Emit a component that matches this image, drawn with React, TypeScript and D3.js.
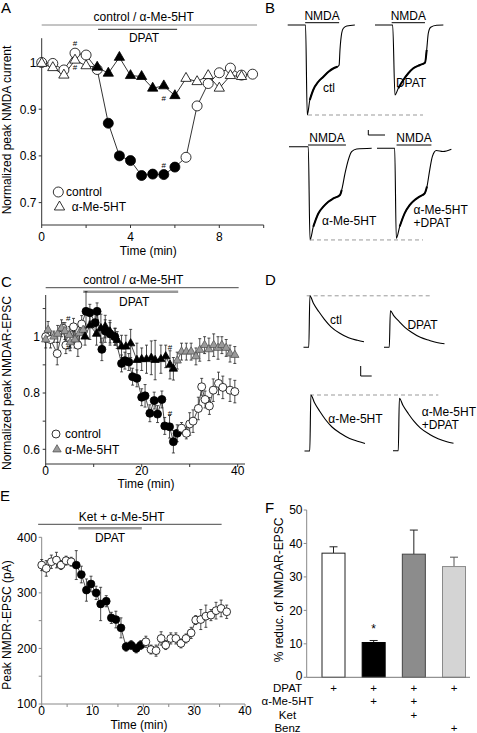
import React from 'react';
import * as d3 from 'd3';

const FONT = '"Liberation Sans", Arial, Helvetica, sans-serif';
const FS = 12;

// ===== Panel A: normalized peak NMDA current =====
const timeActl = [0, 0.5, 1, 1.5, 2, 2.5, 3, 3.5, 4, 4.5, 5, 5.5, 6, 6.5, 7, 7.5, 8, 8.5, 9, 9.5];
const valActl = [1.0, 0.998, 0.984, 1.02, 1.016, 0.985, 0.87, 0.8, 0.79, 0.758, 0.761, 0.76, 0.776, 0.797, 0.907, 0.955, 0.978, 0.988, 0.973, 0.975];
const dpatActl = [0, 0, 0, 0, 0, 0, 1, 1, 1, 1, 1, 1, 1, 0, 0, 0, 0, 0, 0, 0];
const timeAame = [0, 0.5, 1, 1.5, 2, 2.5, 3, 3.5, 4, 4.5, 5, 5.5, 6, 6.5, 7, 7.5, 8, 8.5, 9];
const valAame = [0.998, 0.989, 0.973, 1.005, 0.993, 0.99, 0.977, 1.011, 0.972, 0.97, 0.945, 0.95, 0.929, 0.966, 0.959, 0.972, 0.945, 0.972, 0.97];
const dpatAame = [0, 0, 0, 0, 0, 1, 1, 1, 1, 1, 1, 1, 1, 0, 0, 0, 0, 0, 0];
const appA = [0, 9.7];
const dpatA = [2.54, 6.1];
const sharpA = [[1.5, 1.042], [1.5, 0.99], [5.5, 0.925], [5.5, 0.78]];
const yTicksA = [0.7, 0.8, 0.9, 1];
const yLabA = ['0.7', '0.8', '0.9', '1'];
const xTicksA = [0, 2, 4, 6, 8, 10];
const xLabA = ['0', '', '4', '', '8', ''];

// ===== Panel B: NMDA current traces (s, nA) =====
const tB1 = [0, 2.1, 2.3, 2.6, 3.0, 3.6, 4.2, 4.8, 5.4, 5.85, 6.05, 6.15, 6.35, 6.55, 6.95, 7.9];
const iB1 = [0, 0, -3.6, -3.0, -2.6, -2.27, -2.07, -1.87, -1.73, -1.67, -1.6, -1.0, -0.33, -0.13, -0.04, 0];
const tB2 = [0, 2.08, 2.35, 2.74, 3.33, 3.92, 4.51, 5.29, 5.88, 6.08, 6.27, 6.55, 7.25, 8.04];
const iB2 = [0, 0, -2.8, -2.53, -2.2, -1.93, -1.73, -1.6, -1.51, -1.0, -0.33, -0.09, -0.01, 0];
const tB3 = [0, 2.27, 2.47, 2.86, 3.45, 4.04, 4.63, 5.22, 6.0, 6.2, 6.59, 6.98, 7.37, 7.96, 9.73];
const iB3 = [0, 0, -3.73, -3.2, -2.67, -2.4, -2.2, -2.07, -1.93, -1.73, -1.07, -0.53, -0.2, -0.09, -0.06];
const tB4 = [0, 2.08, 2.27, 2.67, 3.25, 3.84, 4.43, 5.02, 5.61, 5.88, 6.2, 6.51, 6.98, 7.76, 8.75];
const iB4 = [0, 0, -3.6, -3.13, -2.6, -2.27, -2.07, -1.93, -1.8, -1.53, -0.87, -0.33, -0.09, -0.13, -0.04];
const nmdaB = [[2.05, 6.05], [1.96, 5.88], [2.24, 6.7], [2.3, 6.4]];

// ===== Panel C: normalized NMDAR-EPSC =====
const tCc = [0, 1, 2.4, 3.6, 4.2, 5.2, 5.8, 6.7, 7.5, 8.4, 9.2, 10.3, 10.7, 11.7, 12.4, 13.4, 14.4, 15.8, 16.5, 17.3, 18.1, 19.0, 20.0, 20.7, 21.7, 22.6, 23.3, 24.2, 24.8, 25.8, 26.6, 27.4, 28.3, 29.3, 30.0, 30.7, 31.8, 32.5, 33.2, 34.1, 34.9, 36.0, 36.9, 38.4, 39.4];
const vCc = [1.0, 0.99, 0.94, 1.03, 0.97, 0.99, 1.035, 0.97, 1.045, 1.09, 1.085, 1.05, 1.09, 0.955, 1.02, 1.01, 1.0, 0.905, 0.915, 0.91, 0.858, 0.852, 0.785, 0.79, 0.728, 0.773, 0.725, 0.777, 0.683, 0.68, 0.627, 0.657, 0.675, 0.657, 0.69, 0.7, 0.745, 0.822, 0.777, 0.754, 0.81, 0.834, 0.82, 0.81, 0.805];
const eCc = [0.02, 0.03, 0.04, 0.02, 0.03, 0.03, 0.03, 0.04, 0.03, 0.07, 0.03, 0.04, 0.03, 0.04, 0.04, 0.04, 0.03, 0.03, 0.03, 0.03, 0.03, 0.03, 0.03, 0.04, 0.03, 0.03, 0.03, 0.03, 0.03, 0.04, 0.04, 0.03, 0.02, 0.02, 0.04, 0.04, 0.04, 0.03, 0.03, 0.03, 0.04, 0.04, 0.04, 0.04, 0.04];
const fCc = [0, 0, 0, 0, 0, 0, 0, 0, 0, 1, 1, 1, 1, 1, 1, 1, 1, 1, 1, 1, 1, 1, 1, 1, 1, 1, 1, 1, 1, 1, 1, 1, 0, 0, 0, 0, 0, 0, 0, 0, 0, 0, 0, 0, 0];
const tCa = [0, 0.5, 1.7, 2.5, 3.3, 4.0, 4.9, 5.1, 6.1, 7.0, 7.8, 8.2, 9.2, 10.6, 11.5, 12.4, 13.4, 14.5, 14.9, 15.8, 16.7, 17.7, 19.0, 20.0, 21.0, 22.0, 22.8, 24.0, 25.0, 25.9, 26.6, 27.4, 28.3, 29.3, 30.3, 31.3, 32.1, 33.1, 34.0, 35.0, 35.9, 36.7, 37.6, 38.4, 39.4];
const vCa = [0.99, 1.024, 1.0, 1.01, 1.03, 1.02, 1.006, 0.98, 0.99, 1.012, 1.024, 1.0, 1.04, 1.01, 1.03, 1.036, 1.018, 1.0, 0.988, 0.965, 0.965, 0.976, 0.917, 0.92, 0.92, 0.925, 0.917, 0.92, 0.93, 0.9, 0.886, 0.915, 0.947, 0.947, 0.947, 0.93, 0.953, 0.97, 0.955, 0.97, 0.96, 0.97, 0.96, 0.94, 0.935];
const eCa = [0.03, 0.03, 0.02, 0.03, 0.03, 0.03, 0.03, 0.03, 0.03, 0.03, 0.03, 0.03, 0.05, 0.04, 0.05, 0.04, 0.04, 0.03, 0.03, 0.04, 0.04, 0.05, 0.06, 0.04, 0.05, 0.06, 0.07, 0.05, 0.04, 0.05, 0.04, 0.03, 0.03, 0.03, 0.03, 0.03, 0.04, 0.03, 0.04, 0.04, 0.04, 0.03, 0.03, 0.03, 0.03];
const fCa = [0, 0, 0, 0, 0, 0, 0, 0, 0, 0, 0, 1, 1, 1, 1, 1, 1, 1, 1, 1, 1, 1, 1, 1, 1, 1, 1, 1, 1, 1, 1, 0, 0, 0, 0, 0, 0, 0, 0, 0, 0, 0, 0, 0, 0];
const appC = [0, 40.2];
const dpatC = [7.8, 27.6];
const sharpC = [[4.7, 1.066], [4.7, 0.963], [25.9, 0.962], [25.9, 0.728]];
const yTicksC = [0.6, 0.7, 0.8, 0.9, 1.0, 1.1];
const yLabC = ['0.6', '', '0.8', '', '1', ''];
const xTicksC = [0, 10, 20, 30, 40];
const xLabC = ['0', '', '20', '', '40'];

// ===== Panel D: EPSC traces (ms, pA) =====
const tD = [-25, -1, 4, 20, 45, 70, 100, 140, 180, 220, 250];
const iDctl = [0, 0, 103, 88, 71, 56, 41, 28, 19, 14, 11];
const iDdpat = [0, 0, 73, 63, 51, 40, 30, 20, 14, 9, 7];
const iDame = [0, 0, 112, 97, 79, 63, 48, 35, 25, 19, 15];
const iDameDpat = [0, 0, 105, 91, 74, 59, 45, 33, 24, 18, 15];

// ===== Panel E: peak NMDR-EPSC (pA) =====
const tE = [0, 0.9, 1.9, 2.9, 3.8, 4.8, 5.8, 6.8, 7.8, 8.8, 9.7, 10.7, 11.6, 12.7, 13.7, 14.6, 15.6, 16.6, 17.6, 18.6, 19.5, 20.5, 21.5, 22.5, 23.5, 24.4, 25.4, 26.4, 27.4, 28.4, 29.4, 30.3, 31.3, 32.3, 33.3, 34.3, 35.3, 36.4];
const vE = [350, 344, 356, 359, 350, 358, 356, 350, 333, 305, 316, 300, 280, 285, 255, 252, 237, 203, 206, 200, 206, 212, 198, 196, 218, 206, 218, 218, 209, 218, 228, 251, 252, 258, 260, 268, 272, 266];
const eE = [10, 14, 12, 14, 8, 8, 8, 26, 15, 20, 14, 12, 30, 10, 10, 15, 18, 8, 8, 8, 8, 10, 8, 10, 12, 8, 10, 10, 8, 8, 10, 8, 18, 20, 10, 15, 15, 12];
const fE = [0, 0, 0, 0, 0, 0, 0, 1, 1, 1, 1, 1, 1, 1, 1, 1, 1, 1, 1, 1, 1, 0, 0, 0, 0, 0, 0, 0, 0, 0, 0, 0, 0, 0, 0, 0, 0, 0];
const appE = [-0.7, 35.4];
const dpatE = [7.2, 19.7];
const yTicksE = [100, 150, 200, 250, 300, 350, 400];
const yLabE = ['100', '', '200', '', '300', '', '400'];
const xTicksE = [0, 5, 10, 15, 20, 25, 30, 35, 40];
const xLabE = ['0', '', '10', '', '20', '', '30', '', '40'];

// ===== Panel F: % reduction =====
const catsF = ['c1', 'c2', 'c3', 'c4'];
const valF = [37.1, 10.4, 36.8, 33.1];
const errF = [1.9, 0.6, 7.2, 2.8];
const fillF = ['#ffffff', '#000000', '#8c8c8c', '#d4d4d4'];
const strokeF = ['#222', '#000', '#444', '#8a8a8a'];
const rowLabF = ['DPAT', 'α-Me-5HT', 'Ket', 'Benz'];
const rowMarkF = [[1, 1, 1, 1], [0, 1, 1, 0], [0, 0, 1, 0], [0, 0, 0, 1]];
const yTicksF = [0, 10, 20, 30, 40, 50];

type Pt = { t: number; v: number; e: number; f: number };
const zip = (t: number[], v: number[], f: number[], e?: number[]): Pt[] =>
  t.map((tt, i) => ({ t: tt, v: v[i], f: f[i], e: e ? e[i] : 0 }));

function triPath(size: number) {
  return d3.symbol().type(d3.symbolTriangle).size(size)() as string;
}

function YAxis(props: any) {
  const { x, y, top, bottom, ticks, labels, color, lx, dy = 4.3 } = props;
  return (
    <g>
      <line x1={x} x2={x} y1={top} y2={bottom} stroke={color} strokeWidth={1} />
      {ticks.map((t: number, i: number) => (
        <g key={i}>
          <line x1={x - 3} x2={x} y1={y(t)} y2={y(t)} stroke={color} strokeWidth={1} />
          {labels[i] ? (
            <text x={lx} y={y(t) + (i === 0 ? dy : 4.3)} textAnchor="end" fontSize={FS}>{labels[i]}</text>
          ) : null}
        </g>
      ))}
    </g>
  );
}

function XAxis(props: any) {
  const { x, y0, left, right, ticks, labels, color, ly } = props;
  return (
    <g>
      <line x1={left} x2={right} y1={y0} y2={y0} stroke={color} strokeWidth={1} />
      {ticks.map((t: number, i: number) => (
        <g key={i}>
          <line x1={x(t)} x2={x(t)} y1={y0} y2={y0 + 3} stroke={color} strokeWidth={1} />
          {labels[i] ? (
            <text x={x(t)} y={ly} textAnchor="middle" fontSize={FS}>{labels[i]}</text>
          ) : null}
        </g>
      ))}
    </g>
  );
}

function PanelA() {
  const x = d3.scaleLinear().domain([0, 10]).range([41.7, 263.7]);
  const y = d3.scaleLinear().domain([0.7, 1.0]).range([202.6, 62.5]);
  const ctl = zip(timeActl, valActl, dpatActl);
  const ame = zip(timeAame, valAame, dpatAame);
  const line = d3.line<Pt>().x((p) => x(p.t)).y((p) => y(p.v));
  const tri = triPath(46);
  return (
    <g>
      <text x={1} y={12.5} fontSize={15}>A</text>
      <text x={143.7} y={20.5} textAnchor="middle" fontSize={FS}>control / α-Me-5HT</text>
      <line x1={x(appA[0])} x2={x(appA[1])} y1={25} y2={25} stroke="#8a8a8a" strokeWidth={1} />
      <line x1={x(dpatA[0])} x2={x(dpatA[1])} y1={29.3} y2={29.3} stroke="#222" strokeWidth={1} />
      <text x={144} y={41.5} textAnchor="middle" fontSize={FS}>DPAT</text>
      <YAxis x={41.7} y={y} top={y(1.052)} bottom={225} ticks={yTicksA} labels={yLabA} color="#333" lx={36.5} />
      <XAxis x={x} y0={225} left={41.7} right={x(10)} ticks={xTicksA} labels={xLabA} color="#333" ly={241} />
      <path d={line(ctl) as string} fill="none" stroke="#000" strokeWidth={0.8} />
      <path d={line(ame) as string} fill="none" stroke="#000" strokeWidth={0.8} />
      {ctl.map((p, i) => (
        <circle key={'c' + i} cx={x(p.t)} cy={y(p.v)} r={5} fill={p.f ? '#000' : '#fff'} stroke="#000" strokeWidth={0.8} />
      ))}
      {ame.map((p, i) => (
        <path key={'t' + i} d={tri} transform={`translate(${x(p.t)},${y(p.v)})`} fill={p.f ? '#000' : '#fff'} stroke="#000" strokeWidth={0.8} />
      ))}
      {sharpA.map((s, i) => (
        <text key={'s' + i} x={x(s[0])} y={y(s[1]) + 3} textAnchor="middle" fontSize={8}>#</text>
      ))}
      <circle cx={58.3} cy={192} r={5} fill="#fff" stroke="#000" strokeWidth={0.8} />
      <text x={66} y={196.3} fontSize={FS}>control</text>
      <path d={tri} transform="translate(59.5,207)" fill="#fff" stroke="#000" strokeWidth={0.8} />
      <text x={71.7} y={211.3} fontSize={FS}>α-Me-5HT</text>
      <text transform="translate(10.5,130) rotate(-90)" textAnchor="middle" fontSize={FS}>Normalized peak NMDA current</text>
      <text x={148.3} y={254.5} textAnchor="middle" fontSize={FS}>Time (min)</text>
    </g>
  );
}

function NmdaTrace(props: any) {
  const { t, v, x0, y0 } = props;
  const xs = d3.scaleLinear().domain([0, 1]).range([x0, x0 + 8.5]);
  const ys = d3.scaleLinear().domain([0, 1]).range([y0, y0 - 25]);
  const pts = t.map((tt: number, i: number) => [xs(tt), ys(v[i])] as [number, number]);
  const line = d3.line().curve(d3.curveMonotoneX);
  const mid = pts.slice(3, 10);
  return (
    <g>
      <path d={line(pts) as string} fill="none" stroke="#000" strokeWidth={1.1} />
      <path d={line(mid) as string} fill="none" stroke="#000" strokeWidth={2} />
    </g>
  );
}

function PanelB() {
  const rows = [
    { t: tB1, v: iB1, x0: 287.7, y0: 25, barY: 22.7, textY: 20, on: nmdaB[0] },
    { t: tB2, v: iB2, x0: 375, y0: 25, barY: 22.7, textY: 20, on: nmdaB[1] },
    { t: tB3, v: iB3, x0: 289, y0: 146.7, barY: 145, textY: 141.7, on: nmdaB[2] },
    { t: tB4, v: iB4, x0: 377, y0: 148.3, barY: 145, textY: 141.7, on: nmdaB[3] },
  ];
  const peakTop = 25 - 25 * d3.min(iB1)!;
  const peakBot = 146.7 - 25 * d3.min(iB3)!;
  return (
    <g>
      <text x={265} y={12.5} fontSize={15}>B</text>
      {rows.map((r, i) => {
        const xs = d3.scaleLinear().domain([0, 1]).range([r.x0, r.x0 + 8.5]);
        return (
          <g key={i}>
            <line x1={xs(r.on[0])} x2={xs(r.on[1])} y1={r.barY} y2={r.barY} stroke="#000" strokeWidth={1} />
            <text x={(xs(r.on[0]) + xs(r.on[1])) / 2} y={r.textY} textAnchor="middle" fontSize={12}>NMDA</text>
            <NmdaTrace t={r.t} v={r.v} x0={r.x0} y0={r.y0} />
          </g>
        );
      })}
      <line x1={308} x2={423} y1={peakTop} y2={peakTop} stroke="#999" strokeDasharray="4 3" strokeWidth={1} />
      <line x1={310} x2={423} y1={peakBot} y2={peakBot} stroke="#999" strokeDasharray="4 3" strokeWidth={1} />
      <path d="M368.3,130 L368.3,135 L385,135" fill="none" stroke="#000" strokeWidth={1} />
      <text x={329} y={91.5} textAnchor="middle" fontSize={FS}>ctl</text>
      <text x={411} y={86.5} textAnchor="middle" fontSize={FS}>DPAT</text>
      <text x={322} y={224.5} fontSize={FS}>α-Me-5HT</text>
      <text x={413.5} y={214} fontSize={FS}>α-Me-5HT</text>
      <text x={413.5} y={226.5} fontSize={FS}>+DPAT</text>
    </g>
  );
}

function PanelC() {
  const x = d3.scaleLinear().domain([0, 40]).range([45.7, 237.7]);
  const y = d3.scaleLinear().domain([0.6, 1.0]).range([449.3, 336.7]);
  const ctl = zip(tCc, vCc, fCc, eCc);
  const ame = zip(tCa, vCa, fCa, eCa);
  const line = d3.line<Pt>().x((p) => x(p.t)).y((p) => y(p.v));
  const tri = triPath(30);
  const err = (p: Pt, k: string) => (
    <g key={k}>
      <line x1={x(p.t)} x2={x(p.t)} y1={y(p.v - p.e)} y2={y(p.v + p.e)} stroke="#222" strokeWidth={0.8} />
      <line x1={x(p.t) - 1.5} x2={x(p.t) + 1.5} y1={y(p.v + p.e)} y2={y(p.v + p.e)} stroke="#222" strokeWidth={0.8} />
      <line x1={x(p.t) - 1.5} x2={x(p.t) + 1.5} y1={y(p.v - p.e)} y2={y(p.v - p.e)} stroke="#222" strokeWidth={0.8} />
    </g>
  );
  return (
    <g>
      <text x={1} y={287} fontSize={15}>C</text>
      <text x={133.3} y={283.5} textAnchor="middle" fontSize={FS}>control / α-Me-5HT</text>
      <line x1={x(appC[0])} x2={x(appC[1])} y1={287.7} y2={287.7} stroke="#333" strokeWidth={0.9} />
      <line x1={x(dpatC[0])} x2={x(dpatC[1])} y1={291.7} y2={291.7} stroke="#999" strokeWidth={2.5} />
      <text x={134.2} y={305.5} textAnchor="middle" fontSize={FS}>DPAT</text>
      <YAxis x={45.7} y={y} top={295} bottom={464} ticks={yTicksC} labels={yLabC} color="#333" lx={40} />
      <XAxis x={x} y0={464} left={45.7} right={245} ticks={xTicksC} labels={xLabC} color="#333" ly={475} />
      <path d={line(ctl) as string} fill="none" stroke="#000" strokeWidth={0.7} />
      <path d={line(ame) as string} fill="none" stroke="#000" strokeWidth={0.7} />
      {ctl.map((p, i) => err(p, 'ec' + i))}
      {ame.map((p, i) => err(p, 'ea' + i))}
      {ctl.map((p, i) => (
        <circle key={'c' + i} cx={x(p.t)} cy={y(p.v)} r={4} fill={p.f ? '#000' : '#fff'} stroke="#000" strokeWidth={0.8} />
      ))}
      {ame.map((p, i) => (
        <path key={'t' + i} d={tri} transform={`translate(${x(p.t)},${y(p.v)})`} fill={p.f ? '#000' : '#9a9a9a'} stroke={p.f ? '#000' : '#555'} strokeWidth={0.8} />
      ))}
      {sharpC.map((s, i) => (
        <text key={'s' + i} x={x(s[0])} y={y(s[1]) + 3} textAnchor="middle" fontSize={8}>#</text>
      ))}
      <circle cx={56} cy={434} r={4} fill="#fff" stroke="#000" strokeWidth={0.8} />
      <text x={65} y={438.3} fontSize={FS}>control</text>
      <path d={tri} transform="translate(57,449.5)" fill="#9a9a9a" stroke="#555" strokeWidth={0.8} />
      <text x={65} y={453.8} fontSize={FS}>α-Me-5HT</text>
      <text transform="translate(10.5,383) rotate(-90)" textAnchor="middle" fontSize={FS}>Normalized peak NMDAR-EPSC</text>
      <text x={146} y={488} textAnchor="middle" fontSize={FS}>Time (min)</text>
    </g>
  );
}

function EpscTrace(props: any) {
  const { v, x0, y0 } = props;
  const xs = d3.scaleLinear().domain([0, 50]).range([x0, x0 + 11]);
  const ys = d3.scaleLinear().domain([0, 20]).range([y0, y0 - 10]);
  const pts = tD.map((tt, i) => [xs(tt), ys(v[i])] as [number, number]);
  const line = d3.line().curve(d3.curveMonotoneX);
  return <path d={line(pts) as string} fill="none" stroke="#000" strokeWidth={1.1} />;
}

function PanelD() {
  const peakTop = 347.3 - 0.5 * d3.max(iDctl)!;
  const peakBot = 451 - 0.5 * d3.max(iDame)!;
  return (
    <g>
      <text x={265} y={285} fontSize={15}>D</text>
      <line x1={306.7} x2={430} y1={peakTop} y2={peakTop} stroke="#999" strokeDasharray="4 3" strokeWidth={1} />
      <line x1={310} x2={438.3} y1={peakBot} y2={peakBot} stroke="#999" strokeDasharray="4 3" strokeWidth={1} />
      <EpscTrace v={iDctl} x0={309} y0={347.3} />
      <EpscTrace v={iDdpat} x0={389.5} y0={347.3} />
      <EpscTrace v={iDame} x0={310} y0={451} />
      <EpscTrace v={iDameDpat} x0={398.5} y0={450.7} />
      <path d="M360.7,366 L360.7,376 L371.7,376" fill="none" stroke="#000" strokeWidth={1} />
      <text x={336} y={323.5} textAnchor="middle" fontSize={FS}>ctl</text>
      <text x={422.5} y={328.5} textAnchor="middle" fontSize={FS}>DPAT</text>
      <text x={328.3} y={422.5} fontSize={FS}>α-Me-5HT</text>
      <text x={421.7} y={415.5} fontSize={FS}>α-Me-5HT</text>
      <text x={421.7} y={428.5} fontSize={FS}>+DPAT</text>
    </g>
  );
}

function PanelE() {
  const x = d3.scaleLinear().domain([0, 40]).range([41.7, 245]);
  const y = d3.scaleLinear().domain([100, 400]).range([704, 537.3]);
  const pts = zip(tE, vE, fE, eE);
  const line = d3.line<Pt>().x((p) => x(p.t)).y((p) => y(p.v));
  return (
    <g>
      <text x={0} y={500.5} fontSize={15}>E</text>
      <text x={121.7} y={521} textAnchor="middle" fontSize={FS}>Ket + α-Me-5HT</text>
      <line x1={x(appE[0])} x2={x(appE[1])} y1={524.3} y2={524.3} stroke="#333" strokeWidth={0.9} />
      <line x1={x(dpatE[0])} x2={x(dpatE[1])} y1={528.3} y2={528.3} stroke="#999" strokeWidth={2.5} />
      <text x={110} y={542} textAnchor="middle" fontSize={FS}>DPAT</text>
      <YAxis x={41.7} y={y} top={537.3} bottom={704} ticks={yTicksE} labels={yLabE} color="#888" lx={37} />
      <XAxis x={x} y0={704} left={41.7} right={245} ticks={xTicksE} labels={xLabE} color="#888" ly={714.5} />
      <path d={line(pts) as string} fill="none" stroke="#000" strokeWidth={0.7} />
      {pts.map((p, i) => (
        <g key={'e' + i}>
          <line x1={x(p.t)} x2={x(p.t)} y1={y(p.v - p.e)} y2={y(p.v + p.e)} stroke="#222" strokeWidth={0.8} />
          <line x1={x(p.t) - 1.5} x2={x(p.t) + 1.5} y1={y(p.v + p.e)} y2={y(p.v + p.e)} stroke="#222" strokeWidth={0.8} />
          <line x1={x(p.t) - 1.5} x2={x(p.t) + 1.5} y1={y(p.v - p.e)} y2={y(p.v - p.e)} stroke="#222" strokeWidth={0.8} />
        </g>
      ))}
      {pts.map((p, i) => (
        <circle key={'c' + i} cx={x(p.t)} cy={y(p.v)} r={3.9} fill={p.f ? '#000' : '#fff'} stroke="#000" strokeWidth={0.8} />
      ))}
      <text transform="translate(10.5,625) rotate(-90)" textAnchor="middle" fontSize={FS}>Peak NMDR-EPSC (pA)</text>
      <text x={139} y={728.5} textAnchor="middle" fontSize={FS}>Time (min)</text>
    </g>
  );
}

function PanelF() {
  const y = d3.scaleLinear().domain([0, 50]).range([677.3, 510]);
  const x = d3.scalePoint<string>().domain(catsF).range([333.5, 454]);
  const bw = 23;
  const rowY = [691.5, 705, 718.5, 731.5];
  const rowFs = 11.5;
  return (
    <g>
      <text x={265} y={512.5} fontSize={15}>F</text>
      <YAxis x={306.7} y={y} top={510} bottom={677.3} ticks={yTicksF} labels={yTicksF.map(String)} color="#888" lx={302.5} dy={2.5} />
      {catsF.map((c, i) => {
        const cx = x(c)!;
        return (
          <g key={c}>
            <line x1={cx} x2={cx} y1={y(valF[i])} y2={y(valF[i] + errF[i])} stroke={i === 3 ? '#555' : '#222'} strokeWidth={1} />
            <line x1={cx - 4} x2={cx + 4} y1={y(valF[i] + errF[i])} y2={y(valF[i] + errF[i])} stroke={i === 3 ? '#555' : '#222'} strokeWidth={1} />
            <rect x={cx - bw / 2} y={y(valF[i])} width={bw} height={y(0) - y(valF[i])} fill={fillF[i]} stroke={strokeF[i]} strokeWidth={1} />
          </g>
        );
      })}
      <line x1={306.7} x2={470} y1={677.3} y2={677.3} stroke="#777" strokeWidth={1} />
      <text x={x('c2')!} y={y(valF[1] + errF[1]) - 7.5} textAnchor="middle" fontSize={12}>*</text>
      {rowLabF.map((lab, r) => (
        <g key={lab}>
          <text x={287.5} y={rowY[r]} textAnchor="middle" fontSize={rowFs}>{lab}</text>
          {rowMarkF[r].map((m, i) => (m ? (
            <text key={i} x={x(catsF[i])!} y={rowY[r]} textAnchor="middle" fontSize={rowFs}>+</text>
          ) : null))}
        </g>
      ))}
      <text transform="translate(283,590) rotate(-90)" textAnchor="middle" fontSize={FS}>% reduc. of NMDAR-EPSC</text>
    </g>
  );
}

export default function App() {
  return (
    <div style={{ position: 'absolute', left: 0, top: 0 }}>
      <svg width={477} height={733} fontFamily={FONT} style={{ display: 'block' }}>
        <rect x={0} y={0} width={477} height={733} fill="#fff" />
        <PanelA />
        <PanelB />
        <PanelC />
        <PanelD />
        <PanelE />
        <PanelF />
      </svg>
    </div>
  );
}
